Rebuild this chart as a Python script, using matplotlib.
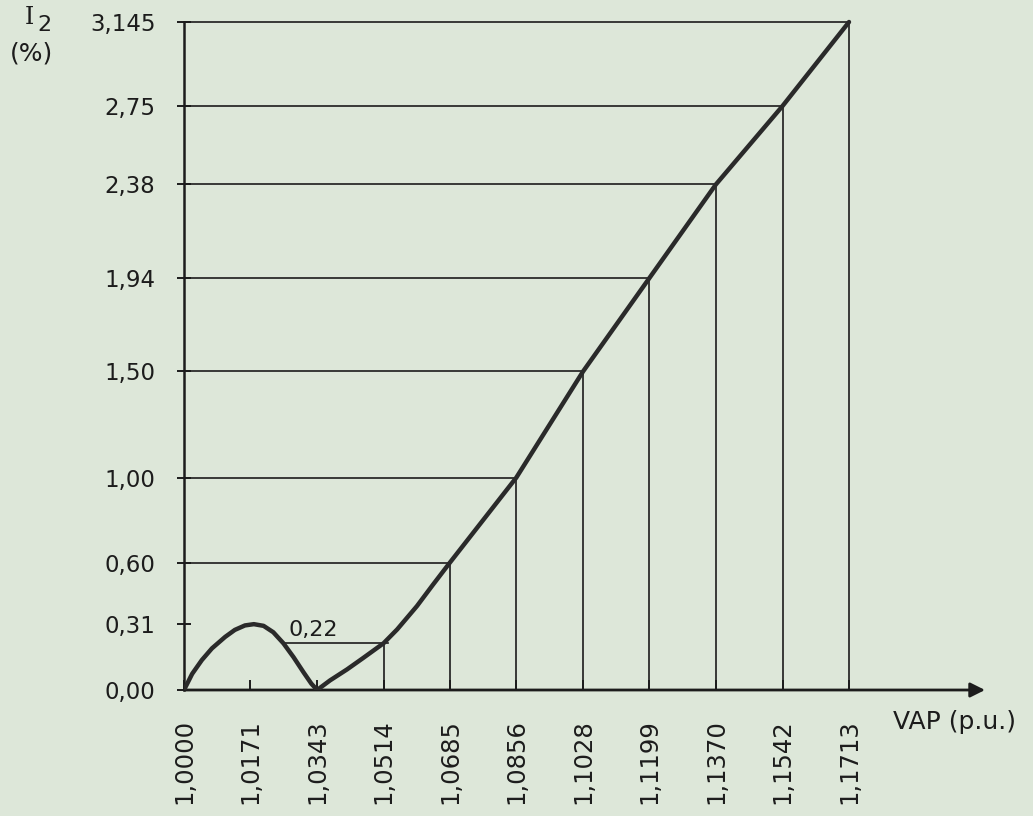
import matplotlib
matplotlib.use("Agg")
import matplotlib.pyplot as plt

# Negative-sequence current I2 (%) versus VAP (p.u.)
vap_points = [1.0000, 1.0171, 1.0343, 1.0514, 1.0685, 1.0856, 1.1028, 1.1199, 1.1370, 1.1542, 1.1713]
vap_labels = ["1,0000", "1,0171", "1,0343", "1,0514", "1,0685", "1,0856",
              "1,1028", "1,1199", "1,1370", "1,1542", "1,1713"]

i2_ticks = [0.00, 0.31, 0.60, 1.00, 1.50, 1.94, 2.38, 2.75, 3.145]
i2_labels = ["0,00", "0,31", "0,60", "1,00", "1,50", "1,94", "2,38", "2,75", "3,145"]

# first lobe (1,0000 .. 1,0343)
lobe_vap = [1.0000, 1.0021, 1.0046, 1.0072, 1.0106, 1.0131, 1.0157, 1.0180,
            1.0205, 1.0230, 1.0256, 1.0282, 1.0308, 1.0328, 1.0343]
lobe_i2 = [0.00, 0.076, 0.141, 0.196, 0.250, 0.283, 0.304, 0.310,
           0.302, 0.272, 0.220, 0.155, 0.083, 0.030, 0.00]

# rising branch (1,0343 .. 1,1713)
rise_vap = [1.0343, 1.0376, 1.0420, 1.0461, 1.0514, 1.0549, 1.0600, 1.0641,
            1.0685, 1.0856, 1.1028, 1.1199, 1.1370, 1.1542, 1.1713]
rise_i2 = [0.00, 0.045, 0.097, 0.150, 0.22, 0.285, 0.395, 0.495,
           0.60, 1.00, 1.50, 1.94, 2.38, 2.75, 3.145]

# labelled points on the rising branch
mark_vap = [1.0685, 1.0856, 1.1028, 1.1199, 1.1370, 1.1542, 1.1713]
mark_i2 = [0.60, 1.00, 1.50, 1.94, 2.38, 2.75, 3.145]

BG = "#dde7d9"
INK = "#1c1c1c"
FONT = "DejaVu Sans"

W, H = 1033, 816
fig = plt.figure(figsize=(W / 100, H / 100), dpi=100)
fig.patch.set_facecolor(BG)

x0_px, y0_px = 184, 690
px_per_x = (849 - 184) / 0.1713
px_per_y = (690 - 22) / 3.145

ax = fig.add_axes([x0_px / W, (H - y0_px) / H, (W - x0_px) / W, y0_px / H])
ax.set_facecolor(BG)
ax.set_xlim(1.0, 1.0 + (W - x0_px) / px_per_x)
ax.set_ylim(0, y0_px / px_per_y)

for s in ("top", "right", "bottom"):
    ax.spines[s].set_visible(False)
ax.spines["left"].set_bounds(0, 3.145)
ax.spines["left"].set_linewidth(1.8)
ax.spines["left"].set_color(INK)

# x axis with arrow head
x_end = 1.0 + (985 - x0_px) / px_per_x
ax.annotate("", xy=(x_end, 0), xytext=(1.0, 0), xycoords="data",
            arrowprops=dict(arrowstyle="-|>", color=INK, lw=2.0,
                            mutation_scale=22, shrinkA=0, shrinkB=0),
            annotation_clip=False)

ax.set_xticks(vap_points, vap_labels, rotation=90, fontsize=17.5, family=FONT, color=INK)
ax.set_yticks(i2_ticks, i2_labels, fontsize=16.5, family=FONT, color=INK)
ax.tick_params(axis="x", direction="in", length=7, width=1.4, color=INK, pad=21)
ax.tick_params(axis="y", direction="inout", length=10, width=1.4, color=INK, pad=15.5)

# guide lines from each labelled point to both axes
for xv, yv in zip(mark_vap, mark_i2):
    ax.plot([1.0, xv], [yv, yv], color=INK, lw=1.2, zorder=2)
    ax.plot([xv, xv], [0, yv], color=INK, lw=1.2, zorder=2)

# 0,22 marker between the lobe and the rising branch
ax.plot([1.0256, 1.0526], [0.22, 0.22], color=INK, lw=1.2, zorder=2)
ax.plot([1.0514, 1.0514], [0, 0.22], color=INK, lw=1.2, zorder=2)
ax.annotate("0,22", xy=(1.0333, 0.22), xytext=(0, 2), textcoords="offset points",
            ha="center", va="bottom", fontsize=16, family=FONT, color=INK)

# curve
for xs, ys in ((lobe_vap, lobe_i2), (rise_vap, rise_i2)):
    ax.plot(xs, ys, color="#2a2a2a", lw=3.2, solid_capstyle="round",
            solid_joinstyle="round", zorder=3)

# axis titles
fig.text(29 / W, 1 - 18 / H, "I", ha="center", va="center", fontsize=17,
         family="DejaVu Serif", color=INK)
fig.text(44 / W, 1 - 25 / H, "2", ha="center", va="center", fontsize=16,
         family=FONT, color=INK)
fig.text(32 / W, 1 - 54 / H, "(%)", ha="center", va="center", fontsize=18,
         family=FONT, color=INK)
fig.text(893 / W, 1 - 722 / H, "VAP (p.u.)", ha="left", va="center", fontsize=18,
         family=FONT, color=INK)

fig.savefig("out.png", dpi=100, facecolor=BG)
